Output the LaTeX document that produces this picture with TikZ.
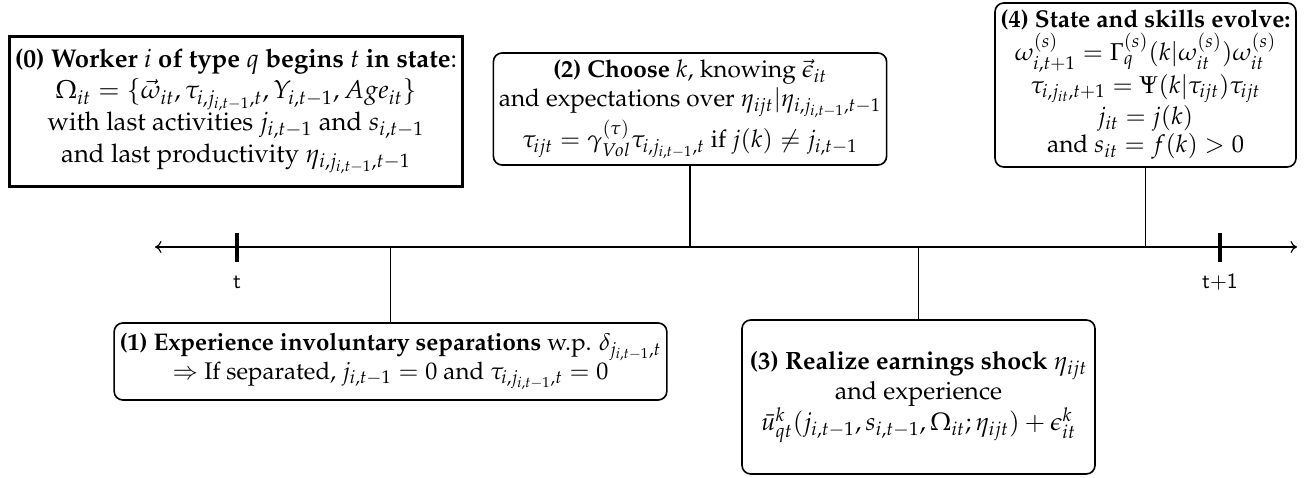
\documentclass[tikz,border=0pt]{standalone}
\usepackage[T1]{fontenc}
\usepackage{mathpazo}
\usetikzlibrary{arrows.meta}
\def\u{0.46pt}
\begin{document}
\begin{tikzpicture}[x=\u, y=-\u,
  rbox/.style={draw, rounded corners=4pt, line width=0.75pt, align=center, inner xsep=2.5pt, inner ysep=0pt},
  sbox/.style={draw, line width=1.3pt, align=center, inner xsep=2.5pt, inner ysep=0pt},
  conn/.style={line width=0.55pt},
  tickmark/.style={line width=1.5pt},
  lab/.style={font=\fontencoding{TU}\fontfamily{lmss}\selectfont}]
\useasboundingbox (0,0) rectangle (1307,478);

% timeline
\coordinate (tlL) at (155,247);
\coordinate (tlR) at (1297,247);
\draw[conn, {To[length=3pt,width=5.5pt]}-{To[length=3pt,width=5.5pt]}] (tlL) -- (tlR);
\coordinate (t0) at (237,247);
\coordinate (t1) at (1220,247);
\draw[tickmark] ([yshift=14*\u]t0) -- ([yshift=-15*\u]t0);
\draw[tickmark] ([yshift=14*\u]t1) -- ([yshift=-15*\u]t1);
\node[lab] (lt0) at (237,282) {t};
\node[lab] (lt1) at (1220,282) {t+1};

% boxes
\node[sbox, minimum height={150*\u}, anchor=north west, font=\fontsize{11.8}{14.6}\selectfont] (b0) at (8,35)
 {\textbf{(0) Worker $i$ of type $q$ begins $t$ in state}:\\
  $\Omega_{it}=\{\vec{\omega}_{it},\tau_{i,j_{i,t-1},t},Y_{i,t-1},Age_{it}\}$\\
  with last activities $j_{i,t-1}$ and $s_{i,t-1}$\\
  and last productivity $\eta_{i,j_{i,t-1},t-1}$};

\node[rbox, minimum height={77*\u}, font=\fontsize{11.07}{13.3}\selectfont] (b1) at (390.5,361.5)
 {\textbf{(1) Experience involuntary separations} w.p. $\delta_{j_{i,t-1},t}$\\
  $\Rightarrow$ If separated, $j_{i,t-1}=0$ and $\tau_{i,j_{i,t-1},t}=0$};

\node[rbox, minimum height={112*\u}, font=\fontsize{11.2}{13.4}\selectfont] (b2) at (690,109)
 {\textbf{(2) Choose} $k$, knowing $\vec{\epsilon}_{it}$\\
  and expectations over $\eta_{ijt}|\eta_{i,j_{i,t-1},t-1}$\\
  $\tau_{ijt}=\gamma^{(\tau)}_{Vol}\tau_{i,j_{i,t-1},t}$ if $j(k)\neq j_{i,t-1}$};

\node[rbox, minimum width={353*\u}, minimum height={154*\u}, font=\fontsize{11.5}{14}\selectfont] (b3) at (918.5,397)
 {\textbf{(3) Realize earnings shock} $\eta_{ijt}$\\
  and experience\\
  $\bar{u}^k_{qt}(j_{i,t-1},s_{i,t-1},\Omega_{it};\eta_{ijt})+\epsilon^k_{it}$};

\node[rbox, minimum height={164*\u}, font=\fontsize{11.2}{13.2}\selectfont] (b4) at (1145.5,85)
 {\textbf{(4) State and skills evolve:}\\
  $\omega^{(s)}_{i,t+1}=\Gamma^{(s)}_q(k|\omega^{(s)}_{it})\omega^{(s)}_{it}$\\
  $\tau_{i,j_{it},t+1}=\Psi(k|\tau_{ijt})\tau_{ijt}$\\
  $j_{it}=j(k)$\\
  and $s_{it}=f(k)>0$};

% connectors
\draw[conn] (b1.north) -- (b1.north |- tlL);
\draw[conn] (b2.south) -- (b2.south |- tlL);
\draw[conn] (b3.north) -- (b3.north |- tlL);
\draw[conn] (b4.south) -- (b4.south |- tlL);
\end{tikzpicture}
\end{document}
